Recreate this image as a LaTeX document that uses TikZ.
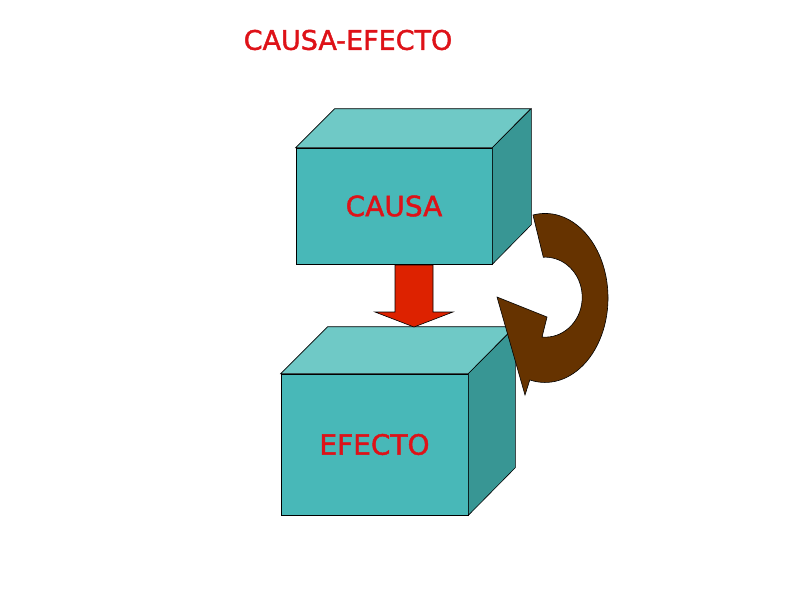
\documentclass[tikz,border=0pt]{standalone}
\usepackage{fontspec}
\setmainfont{DejaVu Sans}
\newfontfamily\labelfont[FakeBold=1.5]{DejaVu Sans}
\usetikzlibrary{calc}
\definecolor{frontcol}{RGB}{72,184,184}
\definecolor{topcol}{RGB}{111,201,198}
\definecolor{sidecol}{RGB}{56,150,148}
\definecolor{textred}{RGB}{222,18,24}
\definecolor{arrowred}{RGB}{221,34,0}
\definecolor{arrowbrown}{RGB}{102,51,0}
\tikzset{
  face/.style={draw=black, line width=0.6pt},
  frontbox/.style={face, fill=frontcol, inner sep=0pt, text=textred,
    font=\labelfont\fontsize{28}{30}\selectfont}
}

\begin{document}
\begin{tikzpicture}[x=1pt,y=-1pt]
\useasboundingbox (0,0) rectangle (794,595);
% title
\node[text=textred, font=\labelfont\fontsize{27}{30}\selectfont] (title) at (348,40) {CAUSA-EFECTO};
% upper box
\node[frontbox, minimum width=196pt, minimum height=116pt] (causa) at (394,206) {CAUSA};
\filldraw[face, fill=topcol] (causa.north west) -- ++(39,-39) -- ++(196,0) -- (causa.north east) -- cycle;
\filldraw[face, fill=sidecol] (causa.north east) -- ++(39,-39) -- ++(0,116) -- (causa.south east) -- cycle;
% lower box
\node[frontbox, minimum width=187pt, minimum height=141pt] (efecto) at (374.5,444.5) {EFECTO};
\filldraw[face, fill=topcol] (efecto.north west) -- ++(47,-47) -- ++(187,0) -- (efecto.north east) -- cycle;
\filldraw[face, fill=sidecol] (efecto.north east) -- ++(47,-47) -- ++(0,141) -- (efecto.south east) -- cycle;
% down arrow
\filldraw[face, fill=arrowred] (395,265) -- (433,265) -- (433,312) -- (453,312)
  -- (414,327) -- (375,312) -- (395,312) -- cycle;
% turning arrow
\filldraw[face, fill=arrowbrown] (533,215)
  arc[start angle=-101, end angle=104, x radius=63, y radius=84.5]
  -- (525,395) -- (497,297) -- (547,317) -- (542,337)
  arc[start angle=95, end angle=-93, x radius=37, y radius=40] -- cycle;
\end{tikzpicture}
\end{document}
